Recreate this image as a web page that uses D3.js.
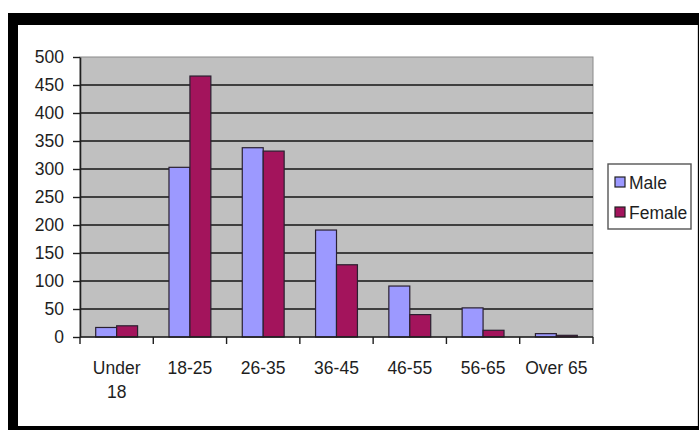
<!DOCTYPE html>
<html>
<head>
<meta charset="utf-8">
<script src="https://cdnjs.cloudflare.com/ajax/libs/d3/7.8.5/d3.min.js"></script>
<style>
  html, body { margin: 0; padding: 0; background: #fff; }
  svg { display: block; }
  text { font-family: "Liberation Sans", Arial, sans-serif; fill: #1e1e1e; }
</style>
</head>
<body>
<div id="chart"></div>
<script>
// age groups and counts
var categories = ["Under 18", "18-25", "26-35", "36-45", "46-55", "56-65", "Over 65"];
var catLines = [["Under", "18"], ["18-25"], ["26-35"], ["36-45"], ["46-55"], ["56-65"], ["Over 65"]];
var male = [17, 303, 338, 191, 91, 52, 6];
var female = [20, 466, 332, 129, 40, 12, 3];
var seriesNames = ["Male", "Female"];
var yTicks = [0, 50, 100, 150, 200, 250, 300, 350, 400, 450, 500];

var colors = { "Male": "#9c99ff", "Female": "#a3145c" };

var W = 699, H = 430;
var svg = d3.select("#chart").append("svg").attr("width", W).attr("height", H);

// black frame, cut off on the right
svg.append("rect").attr("x", 8).attr("y", 13).attr("width", W).attr("height", H)
  .attr("fill", "#000");
svg.append("rect").attr("x", 18).attr("y", 25).attr("width", 679).attr("height", 401)
  .attr("fill", "#fff");
svg.append("line").attr("x1", 697.5).attr("x2", 697.5).attr("y1", 25).attr("y2", 426)
  .attr("stroke", "#d8d8d8");

var plot = { left: 80, right: 593, top: 57, bottom: 337 };

var x = d3.scaleBand().domain(categories).range([plot.left, plot.right]);
var y = d3.scaleLinear().domain([0, 500]).range([plot.bottom, plot.top]);

// plot area
svg.append("rect")
  .attr("x", plot.left).attr("y", plot.top)
  .attr("width", plot.right - plot.left).attr("height", plot.bottom - plot.top)
  .attr("fill", "#c0c0c0").attr("stroke", "#8a8a8a").attr("stroke-width", 1);

// gridlines
svg.append("g").selectAll("line")
  .data(yTicks.filter(function(d) { return d > 0 && d < 500; }))
  .enter().append("line")
  .attr("x1", plot.left).attr("x2", plot.right)
  .attr("y1", function(d) { return y(d); }).attr("y2", function(d) { return y(d); })
  .attr("stroke", "#141414").attr("stroke-width", 1.6);

// bars, Excel style gap width 150%
var bw = x.bandwidth() / 3.5;
var gap = bw * 0.75;
var series = [male, female];
series.forEach(function(vals, si) {
  svg.append("g").selectAll("rect")
    .data(vals)
    .enter().append("rect")
    .attr("x", function(d, i) { return x(categories[i]) + gap + si * bw; })
    .attr("y", function(d) { return y(d); })
    .attr("width", bw)
    .attr("height", function(d) { return y(0) - y(d); })
    .attr("fill", colors[seriesNames[si]])
    .attr("stroke", "#2a2030").attr("stroke-width", 1.2);
});

// y axis
var yAxis = svg.append("g")
  .attr("transform", "translate(" + plot.left + ",0)")
  .call(d3.axisLeft(y).tickValues(yTicks).tickSize(7).tickPadding(9).tickSizeOuter(0));
yAxis.select(".domain").attr("stroke", "#1e1e1e").attr("stroke-width", 1.6);
yAxis.selectAll(".tick line").attr("stroke", "#1e1e1e").attr("stroke-width", 1.4);
yAxis.selectAll(".tick text").style("font-size", "17.5px").attr("fill", "#1e1e1e")
  .attr("font-family", "Liberation Sans, Arial, sans-serif");

// x axis line and ticks between categories
svg.append("line")
  .attr("x1", plot.left).attr("x2", plot.right)
  .attr("y1", y(0)).attr("y2", y(0))
  .attr("stroke", "#1e1e1e").attr("stroke-width", 1.6);
var bounds = categories.map(function(c) { return x(c); }).concat([plot.right]);
svg.append("g").selectAll("line")
  .data(bounds)
  .enter().append("line")
  .attr("x1", function(d) { return d; }).attr("x2", function(d) { return d; })
  .attr("y1", y(0)).attr("y2", y(0) + 7)
  .attr("stroke", "#1e1e1e").attr("stroke-width", 1.4);

// category labels
var cl = svg.append("g").selectAll("text")
  .data(categories)
  .enter().append("text")
  .attr("x", function(d) { return x(d) + x.bandwidth() / 2; })
  .attr("y", 374)
  .attr("text-anchor", "middle")
  .style("font-size", "17.5px");
cl.each(function(d, i) {
  var t = d3.select(this);
  catLines[i].forEach(function(line, li) {
    t.append("tspan")
      .attr("x", x(d) + x.bandwidth() / 2)
      .attr("dy", li == 0 ? 0 : 23.5)
      .text(line);
  });
});

// legend
var lg = svg.append("g");
lg.append("rect").attr("x", 608).attr("y", 164).attr("width", 83).attr("height", 65)
  .attr("fill", "#fff").attr("stroke", "#555").attr("stroke-width", 1.4);
seriesNames.forEach(function(name, i) {
  var cy = 182 + i * 30;
  lg.append("rect").attr("x", 615).attr("y", cy - 5).attr("width", 10).attr("height", 10)
    .attr("fill", colors[name]).attr("stroke", "#222").attr("stroke-width", 1.2);
  lg.append("text").attr("x", 629).attr("y", cy + 6.5)
    .style("font-size", "17.5px").text(name);
});
</script>
</body>
</html>
